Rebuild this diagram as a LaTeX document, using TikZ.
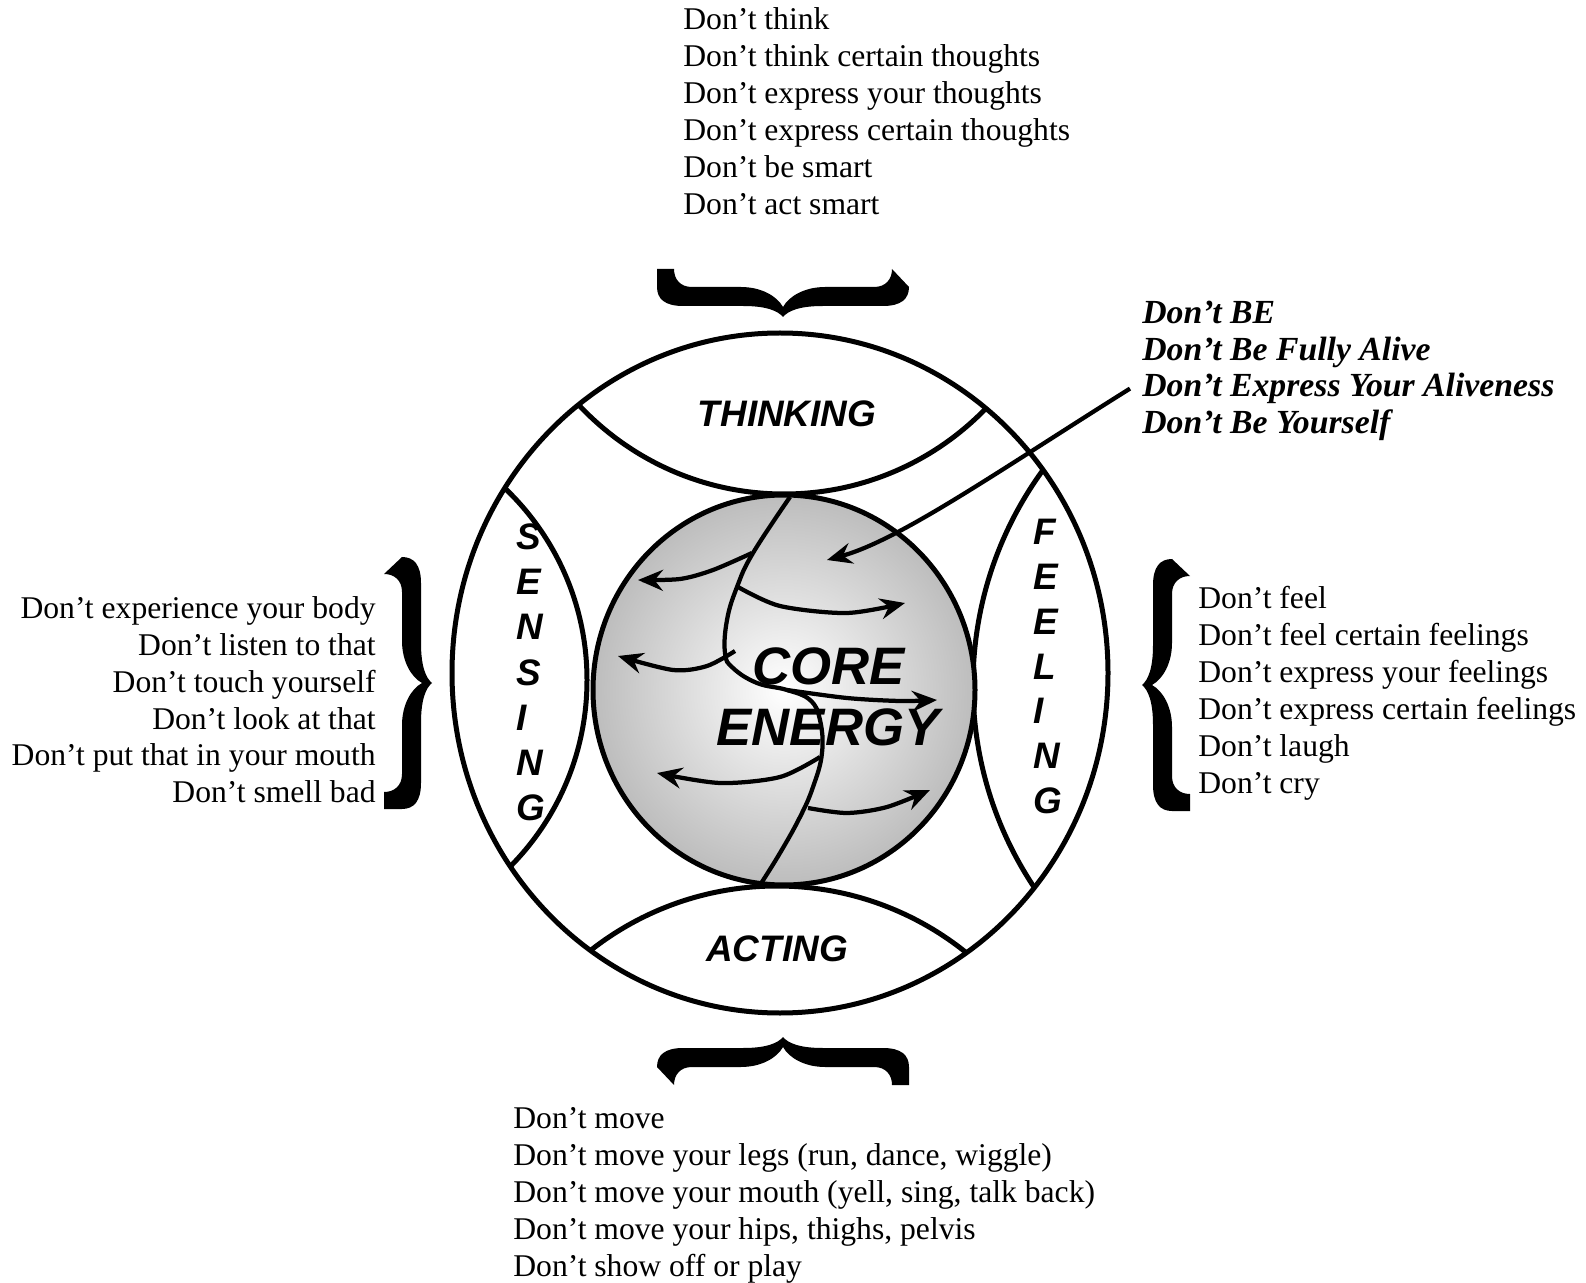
\documentclass[tikz,border=0pt]{standalone}
\usepackage{fontspec}
\setmainfont{Liberation Serif}
\newfontfamily\regionfont{Liberation Sans}
\usetikzlibrary{arrows.meta}

% a bold curly brace, tip at the origin pointing to +x
\tikzset{bracepic/.pic={
  \fill (-30,-126) .. controls (-18,-126) and (-11,-118) .. (-11,-100)
    -- (-11,-40) .. controls (-11,-16) and (-6,-5) .. (0,0)
    .. controls (-6,5) and (-11,16) .. (-11,40)
    -- (-11,100) .. controls (-11,118) and (-18,126) .. (-30,126)
    -- (-48,126) -- (-48,109) .. controls (-38,109) and (-30,103) .. (-30,91)
    -- (-30,42) .. controls (-30,22) and (-21,6) .. (-10,0)
    .. controls (-21,-6) and (-30,-22) .. (-30,-42)
    -- (-30,-91) .. controls (-30,-103) and (-38,-109) .. (-48,-109)
    -- cycle;
}}

\begin{document}
\begin{tikzpicture}[
        x=0.02cm, y=-0.02cm,
        every node/.style={inner sep=0pt},
        ring/.style={line width=0.1cm},
        flow/.style={line width=0.085cm,
                     -{Stealth[length=0.5cm,width=0.42cm,inset=0.17cm]}},
        listtext/.style={font=\fontsize{18}{21}\selectfont},
        boldtext/.style={font=\fontsize{19.2}{22}\selectfont\bfseries\itshape},
        region/.style={font=\regionfont\fontsize{21}{25}\selectfont\bfseries\itshape},
        coretext/.style={font=\regionfont\fontsize{30}{34}\selectfont\bfseries\itshape}
      ]
      \useasboundingbox (0,0) rectangle (1586,1283);

      % The four regions inside the big circle
      \begin{scope}
        \clip (780,673) ellipse [x radius=328, y radius=340];
        \draw[ring] (784,213) circle [radius=281];   % thinking
        \draw[ring] (777,1188) circle [radius=302];  % acting
        \draw[ring] (322,680) circle [radius=265];   % sensing
        \draw[ring] (1338,685) circle [radius=365];  % feeling
      \end{scope}
      \draw[ring] (780,673) ellipse [x radius=328, y radius=340];

      % The core energy ball
      \shadedraw[ring, inner color=white, outer color=black!26]
        (784,690) ellipse [x radius=191, y radius=195];
      \draw[line width=0.085cm] plot[smooth, tension=0.7] coordinates {
        (790,497) (753,553) (737,587) (727,620) (725,653) (733,668)
        (757,683) (787,690) (810,700) (820,720) (822,753) (813,787)
        (800,817) (780,853) (760,885)};

      % Energy flowing out of the core
      \draw[flow] plot[smooth] coordinates {(752,553) (713,570) (680,579) (638,580)};
      \draw[flow] plot[smooth] coordinates {(738,587) (780,606) (847,613) (905,603)};
      \draw[flow] plot[smooth] coordinates {(735,651) (707,666) (673,670) (618,656)};
      \draw[flow] plot[smooth] coordinates {(787,690) (847,698) (900,701) (937,700)};
      \draw[flow] plot[smooth] coordinates {(820,757) (780,777) (720,783) (657,773)};
      \draw[flow] plot[smooth] coordinates {(808,808) (847,813) (887,807) (930,790)};

      % Region names
      \node[region, anchor=base] (thinking) at (787,427) {THINKING};
      \node[region, anchor=base] (acting) at (777,961) {ACTING};
      \foreach \ch [count=\i] in {S,E,N,S,I,N,G}
        \node[region, anchor=base west] (sense\i) at (516,{550+45*(\i-1)}) {\ch};
      \foreach \ch [count=\i] in {F,E,E,L,I,N,G}
        \node[region, anchor=base west] (feel\i) at (1033,{545+44.7*(\i-1)}) {\ch};
      \node[coretext, anchor=base] (core) at (829,684) {CORE};
      \node[coretext, anchor=base] (energy) at (828,745) {ENERGY};

      % Braces
      \pic (thinkbrace) [rotate=-90] at (783,317) {bracepic};
      \pic (actbrace) [rotate=90] at (783,1037) {bracepic};
      \pic (sensebrace) at (432,683) {bracepic};
      \pic (feelbrace) [xscale=-1] at (1142,685) {bracepic};

      % The messages
      \foreach \txt [count=\i] in {Don’t think, Don’t think certain thoughts,
          Don’t express your thoughts, Don’t express certain thoughts,
          Don’t be smart, Don’t act smart}
        \node[listtext, anchor=base west] (think\i) at (683,{30+37*(\i-1)}) {\txt};
      \foreach \txt [count=\i] in {Don’t experience your body, Don’t listen to that,
          Don’t touch yourself, Don’t look at that,
          Don’t put that in your mouth, Don’t smell bad}
        \node[listtext, anchor=base east] (sense\i txt) at (376,{619+36.7*(\i-1)}) {\txt};
      \foreach \txt [count=\i] in {Don’t feel, Don’t feel certain feelings,
          Don’t express your feelings, Don’t express certain feelings,
          Don’t laugh, Don’t cry}
        \node[listtext, anchor=base west] (feel\i txt) at (1198,{608.5+36.9*(\i-1)}) {\txt};
      \foreach \txt [count=\i] in {Don’t move, {Don’t move your legs (run, dance, wiggle)},
          {Don’t move your mouth (yell, sing, talk back)},
          {Don’t move your hips, thighs, pelvis}, Don’t show off or play}
        \node[listtext, anchor=base west] (act\i) at (513,{1128.5+36.9*(\i-1)}) {\txt};
      \foreach \txt [count=\i] in {Don’t BE, Don’t Be Fully Alive,
          Don’t Express Your Aliveness, Don’t Be Yourself}
        \node[boldtext, anchor=base west] (be\i) at (1142,{323.5+36.6*(\i-1)}) {\txt};

      % Message aimed at the core
      \coordinate (coretip) at (827,560);
      \draw[flow] ([xshift=-0.24cm]be3.west) .. controls (1000,470) and (900,540) .. (coretip);
    \end{tikzpicture}
\end{document}
